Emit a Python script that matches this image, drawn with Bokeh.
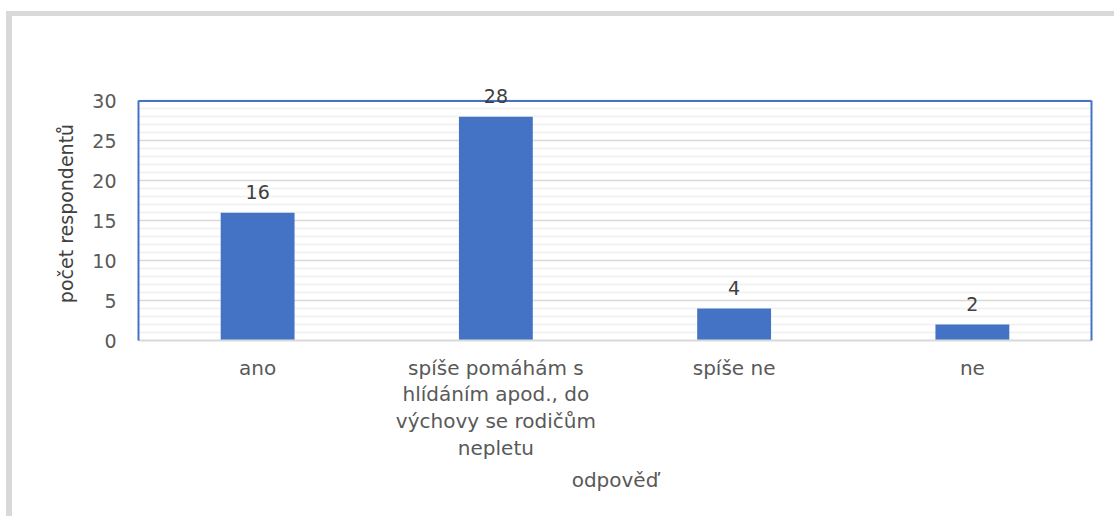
from bokeh.plotting import figure
from bokeh.models import (ColumnDataSource, Label, Span, FixedTicker,
                          LinearAxis, Range1d, FactorRange)
from bokeh.embed import file_html
from bokeh.resources import INLINE

categories = ["ano",
              "spíše pomáhám s\nhlídáním apod., do\nvýchovy se rodičům\nnepletu",
              "spíše ne",
              "ne"]
values = [16, 28, 4, 2]
labels = [str(v) for v in values]
y_major = [0, 5, 10, 15, 20, 25, 30]
y_minor = [t for t in range(0, 31) if t % 5 != 0]
Y_MAX = 30

FONT = "DejaVu Sans"
FS = "19px"
GRAY = "#595959"
DARK = "#404040"
BLUE = "#4472C4"

src = ColumnDataSource(dict(cat=categories, val=values, lab=labels))

p = figure(width=1108, height=505, x_range=FactorRange(*categories),
           y_range=Range1d(0, 31.8), output_backend="svg", toolbar_location=None,
           min_border_left=126, min_border_right=29, min_border_top=70,
           min_border_bottom=181)
p.styles = {"border-left": "6px solid #d9d9d9", "border-top": "5px solid #d9d9d9",
            "margin-top": "11px", "margin-left": "6px"}
p.outline_line_color = None
p.background_fill_color = "white"
p.border_fill_color = "white"

p.vbar(x="cat", top="val", width=0.31, source=src, color=BLUE, line_color=None)

# top border of the plot area
p.add_layout(Span(location=Y_MAX, dimension="width", line_color=BLUE, line_width=2))

# value labels (categorical synthetic coordinate of each factor centre)
for i, (v, t) in enumerate(zip(values, labels)):
    p.add_layout(Label(x=i + 0.5, y=v, text=t, y_offset=21,
                       text_align="center", text_baseline="middle",
                       text_font=FONT, text_font_size=FS, text_color=DARK))

# y axis
ya = p.yaxis[0]
ya.ticker = FixedTicker(ticks=y_major, minor_ticks=y_minor)
ya.bounds = (0, Y_MAX)
ya.axis_line_color = BLUE
ya.axis_line_width = 2
ya.major_tick_line_color = None
ya.minor_tick_line_color = None
ya.major_label_standoff = 16
ya.major_label_text_font = FONT
ya.major_label_text_font_size = FS
ya.major_label_text_color = GRAY
ya.axis_label = "počet respondentů"
ya.axis_label_text_font = FONT
ya.axis_label_text_font_size = FS
ya.axis_label_text_font_style = "normal"
ya.axis_label_text_color = DARK
ya.axis_label_standoff = 12

# x axis
xa = p.xaxis[0]
xa.axis_line_color = "#d9d9d9"
xa.axis_line_width = 2
xa.major_tick_line_color = None
xa.minor_tick_line_color = None
xa.major_label_standoff = 9
xa.major_label_text_font = FONT
xa.major_label_text_font_size = "20px"
xa.major_label_text_color = GRAY
xa.major_label_text_line_height = 1.12
xa.axis_label = "odpověď"
xa.axis_label_text_font = FONT
xa.axis_label_text_font_size = "20px"
xa.axis_label_text_font_style = "normal"
xa.axis_label_text_color = GRAY
xa.axis_label_standoff = 5

# right border of the plot area
p.add_layout(LinearAxis(ticker=FixedTicker(ticks=[]), bounds=(0, Y_MAX),
                        axis_line_color=BLUE, axis_line_width=2,
                        major_tick_line_color=None, minor_tick_line_color=None),
             "right")

p.xgrid.grid_line_color = None
p.ygrid.grid_line_color = "#d9d9d9"
p.ygrid.grid_line_width = 1.5
p.ygrid.minor_grid_line_color = "#f0f0f0"
p.ygrid.minor_grid_line_width = 1.5

open("out.html", "w").write(file_html(p, INLINE))
